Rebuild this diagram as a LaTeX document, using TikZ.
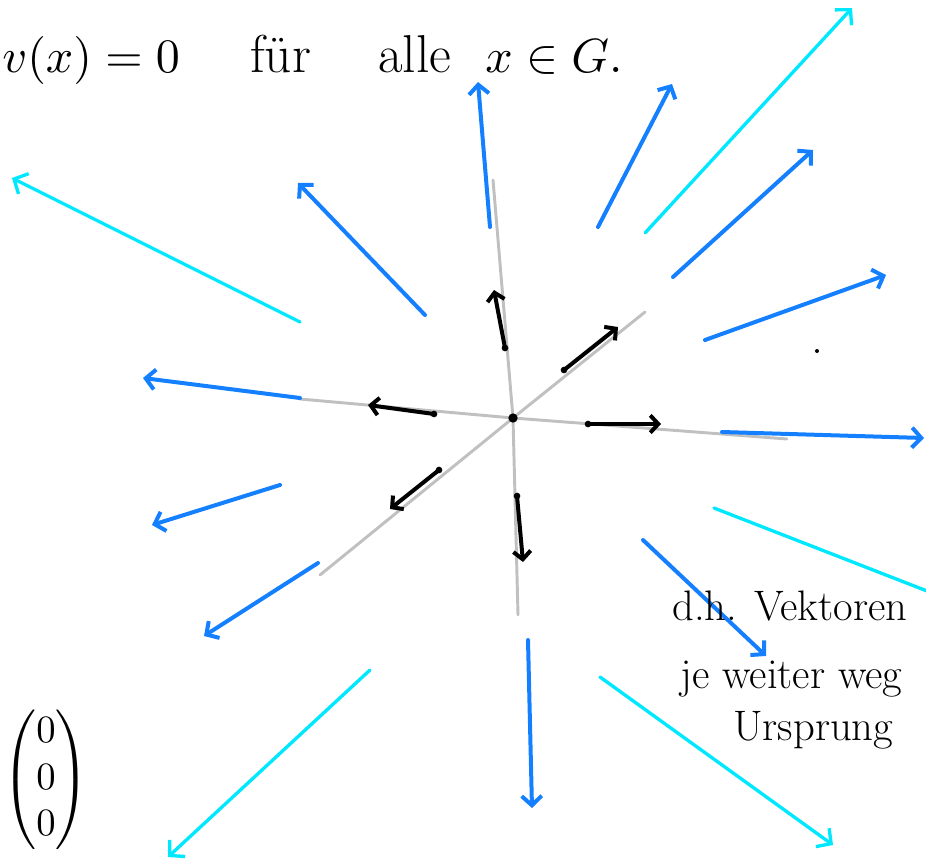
\documentclass[tikz,border=0pt]{standalone}
\usepackage{amsmath,amssymb}
\usepackage{graphicx}
\usepackage{tikz}
\usetikzlibrary{arrows.meta}
\definecolor{fldblue}{RGB}{20,128,255}
\definecolor{fldcyan}{RGB}{0,232,255}
\definecolor{axgray}{RGB}{192,192,192}

\begin{document}
\begin{tikzpicture}[x=0.75pt,y=-0.75pt,line cap=round,line join=round,
  ax/.style={axgray,line width=2.2pt},
  vshort/.style={black,line width=3pt,-{Straight Barb[length=6pt,width=13pt]}},
  vmid/.style={fldblue,line width=3pt,-{Straight Barb[length=7pt,width=15pt]}},
  vlong/.style={fldcyan,line width=2.5pt,-{Straight Barb[length=8pt,width=17pt]}},
  mathhand/.style={inner sep=0pt,anchor=base west},
  hand/.style={mathhand,font=\fontsize{32}{38}\selectfont},
  bighand/.style={mathhand,font=\fontsize{40}{46}\selectfont}]
\useasboundingbox (0,0) rectangle (926,861);
\coordinate (o) at (513,418);
% Achsen
\draw[ax] (300,399) -- (o) -- (787,439);
\draw[ax] (493,180) -- (o) -- (518,615);
\draw[ax] (645,312) -- (o) -- (320,575);
% kurze Vektoren nahe Ursprung
\fill (o) circle (3.5pt);
\draw[vshort] (505,348) -- (494,290); \fill (505,348) circle (2.5pt);
\draw[vshort] (564,370) -- (618,327); \fill (564,370) circle (2.5pt);
\draw[vshort] (434,414) -- (368,405); \fill (434,414) circle (2.5pt);
\draw[vshort] (588,424) -- (661,424); \fill (588,424) circle (2.5pt);
\draw[vshort] (439,470) -- (390,509); \fill (439,470) circle (2.5pt);
\draw[vshort] (517,496) -- (523,562); \fill (517,496) circle (2.5pt);
% mittlere Vektoren
\draw[vmid] (490,227) -- (478,82);
\draw[vmid] (598,227) -- (672,84);
\draw[vmid] (673,277) -- (813,150);
\draw[vmid] (705,340) -- (886,275);
\draw[vmid] (722,432) -- (924,438);
\draw[vmid] (643,540) -- (766,656);
\draw[vmid] (528,640) -- (532,808);
\draw[vmid] (318,563) -- (204,636);
\draw[vmid] (280,485) -- (152,525);
\draw[vmid] (300,398) -- (143,378);
\draw[vmid] (425,315) -- (298,183);
% lange Vektoren
\draw[vlong] (645,233) -- (852,8);
\draw[vlong] (300,322) -- (12,178);
\draw[fldcyan,line width=2.5pt] (714,508) -- (945,598);
\draw[vlong] (370,670) -- (168,857);
\draw[vlong] (600,677) -- (833,845);
\fill (817,351) circle (1.5pt);
% Texte
\node[mathhand] (lhs) at (2,72) {\scalebox{3.6}{$v(x)=0$}};
\node[bighand] (fuer) at (250,72) {für};
\node[bighand] (alle) at (378,72) {alle};
\node[mathhand] (xing) at (485,72) {\scalebox{3.6}{$x\in G$.}};
\node[hand] (dh) at (672,620) {d.h. Vektoren};
\node[hand] (weit) at (680,688) {je weiter weg};
\node[hand] (urspr) at (733,740) {Ursprung};
\node[inner sep=0pt] (nullvec) at (46,780) {\scalebox{2.9}{$\begin{pmatrix}0\\0\\0\end{pmatrix}$}};
\end{tikzpicture}
\end{document}
